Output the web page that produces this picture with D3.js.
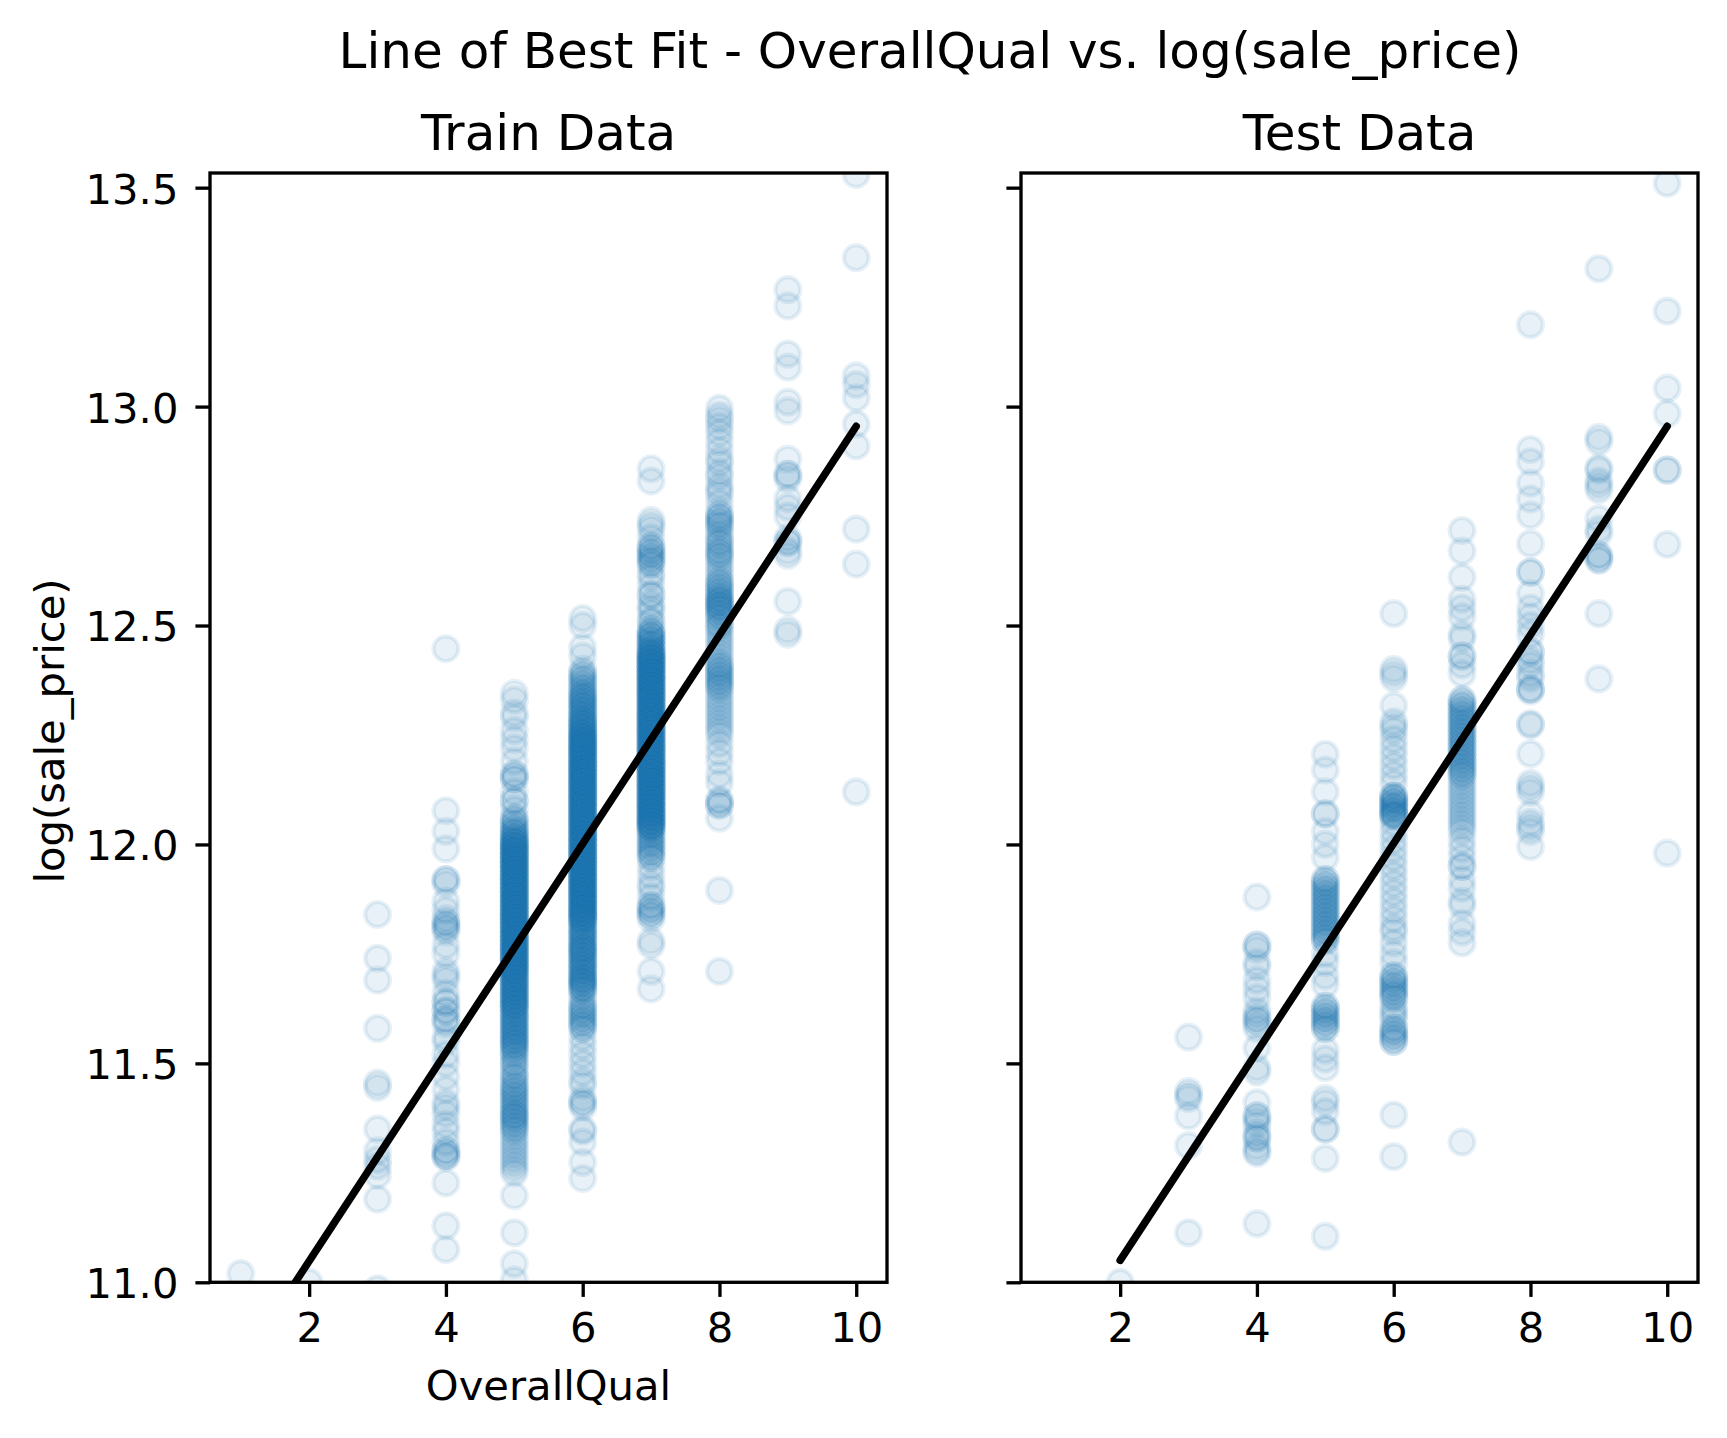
<!DOCTYPE html>
<html>
<head>
<meta charset="utf-8">
<script src="https://cdn.jsdelivr.net/npm/d3@7"></script>
<style>
  body { margin: 0; background: #fff; }
  svg { display: block; font-family: "DejaVu Sans", sans-serif; }
</style>
</head>
<body>
<svg id="chart" width="1727" height="1438"></svg>
<script>
// each column: [log(sale_price), how many points sit there]
const train1 = [[11.02, 1]];
const train2 = [[11.0, 1]];
const train3 = [[11.84, 1], [11.74, 1], [11.69, 1], [11.58, 1], [11.455, 1], [11.445, 1], [11.35, 1],
  [11.30, 1], [11.28, 1], [11.265, 1], [11.245, 1], [11.19, 1], [10.985, 1]];
const train4 = [[12.447, 1], [12.077, 1], [12.03, 1], [11.99, 1], [11.92, 2], [11.91, 1], [11.87, 1],
  [11.85, 1], [11.83, 1], [11.82, 2], [11.81, 2], [11.80, 1], [11.77, 1], [11.75, 1], [11.71, 1],
  [11.70, 1], [11.69, 1], [11.66, 1], [11.64, 2], [11.62, 2], [11.60, 2], [11.59, 1], [11.56, 1],
  [11.55, 1], [11.52, 1], [11.50, 1], [11.47, 1], [11.44, 1], [11.41, 1], [11.40, 1], [11.385, 1],
  [11.36, 1], [11.345, 1], [11.32, 1], [11.30, 2], [11.29, 2], [11.285, 1], [11.227, 1], [11.129, 1],
  [11.075, 1]];
const train5 = [[12.345, 1], [12.33, 1], [12.30, 1], [12.29, 1], [12.26, 1], [12.24, 1], [12.22, 1],
  [12.19, 1], [12.16, 2], [12.15, 2], [12.12, 1], [12.10, 2], [12.08, 1], [12.06, 2], [12.05, 2],
  [12.04, 2], [12.03, 3], [12.02, 3], [12.01, 4],
  [12.00, 5], [11.99, 5], [11.98, 5], [11.97, 5], [11.96, 5], [11.95, 5], [11.94, 5], [11.93, 5],
  [11.92, 5], [11.91, 5], [11.90, 5], [11.89, 5], [11.88, 5], [11.87, 5], [11.86, 5], [11.85, 5],
  [11.84, 5], [11.83, 5], [11.82, 5], [11.81, 5], [11.80, 5], [11.79, 5], [11.78, 5], [11.77, 5],
  [11.76, 5], [11.75, 5], [11.74, 5], [11.73, 5], [11.72, 5], [11.71, 5],
  [11.70, 4], [11.69, 4], [11.68, 4], [11.67, 4], [11.66, 4], [11.65, 4], [11.64, 4], [11.63, 4],
  [11.62, 3], [11.61, 3], [11.60, 3], [11.59, 3], [11.58, 3], [11.57, 3], [11.56, 3], [11.55, 3],
  [11.54, 3],
  [11.53, 2], [11.52, 2], [11.51, 1], [11.50, 2], [11.49, 1], [11.48, 1], [11.47, 2], [11.46, 1],
  [11.45, 2], [11.44, 2], [11.43, 2], [11.42, 2], [11.41, 2], [11.40, 2], [11.39, 2], [11.38, 3],
  [11.37, 2], [11.36, 2], [11.35, 2],
  [11.34, 1], [11.33, 1], [11.32, 1], [11.31, 1], [11.30, 1], [11.29, 1], [11.28, 1], [11.27, 1],
  [11.26, 1], [11.25, 1], [11.198, 1], [11.113, 1], [11.042, 1], [11.005, 1]];
const train6 = [[12.516, 1], [12.50, 1], [12.45, 1], [12.43, 1], [12.40, 1], [12.39, 2], [12.38, 2],
  [12.37, 2], [12.36, 2], [12.35, 2], [12.34, 3], [12.33, 3], [12.32, 3], [12.31, 3], [12.30, 3],
  [12.29, 3], [12.28, 4], [12.27, 4], [12.26, 4],
  [12.25, 5], [12.24, 5], [12.23, 5], [12.22, 5], [12.21, 5], [12.20, 5], [12.19, 5], [12.18, 5],
  [12.17, 5], [12.16, 5], [12.15, 5], [12.14, 5], [12.13, 5], [12.12, 5], [12.11, 5], [12.10, 5],
  [12.09, 5], [12.08, 5], [12.07, 5], [12.06, 5], [12.05, 5], [12.04, 5], [12.03, 5], [12.02, 5],
  [12.01, 5], [12.00, 5], [11.99, 5], [11.98, 5], [11.97, 5], [11.96, 5], [11.95, 5], [11.94, 5],
  [11.93, 5], [11.92, 5], [11.91, 5], [11.90, 5], [11.89, 5], [11.88, 5], [11.87, 5], [11.86, 5],
  [11.85, 5], [11.84, 5], [11.83, 5],
  [11.82, 3], [11.81, 3], [11.80, 3], [11.79, 3], [11.78, 3], [11.77, 3], [11.76, 4], [11.75, 3],
  [11.74, 3], [11.73, 3], [11.72, 3], [11.71, 3], [11.70, 3], [11.69, 4], [11.68, 3], [11.67, 3],
  [11.66, 1], [11.65, 1], [11.64, 1],
  [11.63, 2], [11.62, 2], [11.61, 2], [11.60, 2], [11.59, 2], [11.58, 2],
  [11.56, 1], [11.54, 1], [11.52, 1], [11.50, 1], [11.48, 1], [11.46, 1], [11.45, 1],
  [11.42, 1], [11.41, 2], [11.40, 1], [11.35, 1], [11.345, 1], [11.32, 1], [11.274, 1], [11.237, 1]];
const train7 = [[12.858, 1], [12.83, 1], [12.74, 1], [12.73, 1], [12.72, 1], [12.70, 1], [12.68, 2],
  [12.67, 2], [12.66, 2], [12.65, 2], [12.64, 2], [12.62, 1], [12.61, 1], [12.59, 1], [12.57, 2],
  [12.55, 1], [12.54, 1], [12.53, 1], [12.51, 2], [12.49, 2], [12.48, 3], [12.47, 3], [12.46, 3],
  [12.45, 3], [12.44, 4],
  [12.43, 5], [12.42, 5], [12.41, 5], [12.40, 5], [12.39, 5], [12.38, 5], [12.37, 5], [12.36, 5],
  [12.35, 5], [12.34, 5], [12.33, 5], [12.32, 5], [12.31, 5], [12.30, 5], [12.29, 5], [12.28, 5],
  [12.27, 5], [12.26, 5], [12.25, 5], [12.24, 5], [12.23, 5], [12.22, 5], [12.21, 5], [12.20, 5],
  [12.19, 5], [12.18, 5], [12.17, 5], [12.16, 5], [12.15, 5], [12.14, 5], [12.13, 5], [12.12, 5],
  [12.11, 5], [12.10, 5], [12.09, 5], [12.08, 5], [12.07, 5], [12.06, 5], [12.05, 5], [12.04, 5],
  [12.03, 2], [12.02, 2], [12.01, 2], [12.00, 2], [11.99, 2], [11.98, 2], [11.97, 2],
  [11.95, 1], [11.93, 1], [11.91, 1], [11.90, 1], [11.88, 1], [11.86, 2], [11.85, 2], [11.84, 2],
  [11.83, 1], [11.78, 1], [11.77, 1], [11.71, 1], [11.67, 1]];
const train8 = [[12.996, 1], [12.98, 1], [12.97, 1], [12.955, 1], [12.94, 1], [12.92, 1], [12.90, 1],
  [12.88, 1], [12.87, 1], [12.85, 1], [12.84, 1], [12.82, 1], [12.81, 1], [12.80, 1], [12.78, 1],
  [12.76, 1], [12.75, 2], [12.74, 2], [12.73, 2], [12.72, 1], [12.71, 1], [12.70, 1], [12.69, 2],
  [12.68, 1], [12.67, 2], [12.66, 2], [12.65, 1], [12.64, 1], [12.63, 1], [12.62, 1], [12.61, 1],
  [12.60, 2], [12.59, 2], [12.58, 2], [12.57, 2], [12.56, 3], [12.55, 3], [12.54, 3], [12.53, 2],
  [12.52, 2], [12.51, 1], [12.50, 2], [12.49, 1], [12.48, 1], [12.47, 1], [12.46, 1], [12.45, 1],
  [12.44, 1], [12.43, 1], [12.42, 1], [12.41, 2], [12.40, 2], [12.39, 2], [12.38, 2], [12.37, 2],
  [12.36, 2], [12.35, 1], [12.34, 1], [12.33, 1], [12.32, 1], [12.31, 1], [12.30, 1], [12.29, 1],
  [12.28, 1], [12.27, 1], [12.26, 1], [12.25, 1], [12.23, 1], [12.21, 1], [12.19, 1], [12.16, 1],
  [12.14, 1], [12.10, 2], [12.09, 2], [12.06, 1], [11.895, 1], [11.71, 1]];
const train9 = [[13.267, 1], [13.23, 1], [13.12, 1], [13.09, 1], [13.01, 1], [12.99, 1], [12.88, 1],
  [12.845, 2], [12.835, 1], [12.79, 1], [12.77, 1], [12.75, 1], [12.70, 1], [12.69, 2], [12.67, 1],
  [12.66, 1], [12.555, 1], [12.49, 1], [12.48, 1]];
const train10 = [[13.53, 1], [13.34, 1], [13.07, 1], [13.05, 1], [13.02, 1], [12.96, 1], [12.91, 1],
  [12.72, 1], [12.64, 1], [12.12, 1]];

const test2 = [[11.0, 1]];
const test3 = [[11.56, 1], [11.436, 1], [11.427, 1], [11.42, 1], [11.38, 1], [11.312, 1], [11.113, 1]];
const test4 = [[11.88, 1], [11.77, 2], [11.76, 1], [11.73, 1], [11.72, 1], [11.69, 1], [11.67, 1],
  [11.65, 1], [11.62, 1], [11.61, 1], [11.60, 2], [11.59, 1], [11.58, 1], [11.535, 1], [11.49, 1],
  [11.48, 1], [11.41, 1], [11.38, 2], [11.37, 1], [11.36, 1], [11.34, 1], [11.33, 2], [11.31, 1],
  [11.30, 1], [11.295, 1], [11.134, 1]];
const test5 = [[12.206, 1], [12.17, 1], [12.12, 1], [12.07, 2], [12.03, 1], [12.00, 1], [11.97, 1],
  [11.92, 2], [11.91, 2], [11.90, 2], [11.89, 2], [11.88, 2], [11.87, 2], [11.86, 2], [11.85, 2],
  [11.84, 2], [11.83, 2], [11.82, 2], [11.81, 2], [11.80, 2], [11.79, 2], [11.78, 2],
  [11.75, 1], [11.73, 1], [11.70, 1], [11.68, 1],
  [11.63, 2], [11.62, 2], [11.61, 2], [11.60, 2], [11.59, 2], [11.58, 2],
  [11.53, 1], [11.51, 1], [11.49, 1], [11.42, 1], [11.41, 1], [11.39, 1], [11.35, 2], [11.283, 1],
  [11.105, 1]];
const test6 = [[12.527, 1], [12.40, 1], [12.39, 1], [12.38, 1], [12.317, 1], [12.28, 1], [12.27, 1],
  [12.26, 1], [12.24, 1], [12.22, 1], [12.20, 1], [12.18, 1], [12.16, 1], [12.14, 1],
  [12.11, 3], [12.10, 3], [12.09, 3], [12.08, 3], [12.07, 3], [12.065, 2],
  [12.05, 1], [12.03, 1], [12.01, 1], [11.99, 1], [11.97, 1], [11.95, 1], [11.93, 1], [11.91, 1],
  [11.89, 1], [11.87, 1], [11.85, 1], [11.83, 1], [11.81, 1], [11.80, 1], [11.775, 1], [11.75, 1],
  [11.73, 1], [11.70, 2], [11.69, 2], [11.68, 2], [11.67, 2], [11.66, 2], [11.65, 2],
  [11.63, 1], [11.62, 1], [11.61, 1], [11.60, 1], [11.58, 2], [11.57, 2], [11.56, 2], [11.55, 2],
  [11.382, 1], [11.287, 1]];
const test7 = [[12.717, 1], [12.67, 1], [12.61, 1], [12.56, 1], [12.54, 1], [12.52, 1], [12.48, 1],
  [12.47, 1], [12.43, 2], [12.41, 1], [12.39, 1],
  [12.33, 2], [12.32, 2], [12.31, 2], [12.30, 2], [12.29, 2], [12.28, 2], [12.27, 2], [12.26, 2],
  [12.25, 2], [12.24, 2], [12.23, 2], [12.22, 2], [12.21, 2], [12.20, 2], [12.19, 2], [12.18, 2],
  [12.17, 2], [12.16, 2],
  [12.15, 1], [12.14, 1], [12.13, 1], [12.12, 1], [12.11, 1], [12.10, 1], [12.09, 1], [12.08, 1],
  [12.07, 1], [12.06, 1], [12.05, 1], [12.04, 1], [12.03, 1],
  [12.01, 1], [11.99, 1], [11.97, 1], [11.95, 2], [11.92, 1], [11.90, 1], [11.87, 1], [11.86, 1],
  [11.82, 1], [11.80, 1], [11.775, 1], [11.32, 1]];
const test8 = [[13.187, 1], [12.902, 1], [12.874, 1], [12.825, 1], [12.789, 1], [12.752, 1],
  [12.687, 1], [12.622, 2], [12.573, 1], [12.54, 1], [12.52, 1], [12.50, 1], [12.48, 1], [12.44, 2],
  [12.42, 1], [12.41, 1], [12.39, 1], [12.38, 1], [12.355, 2], [12.35, 1], [12.276, 1], [12.272, 1],
  [12.207, 1], [12.14, 1], [12.13, 1], [12.12, 1], [12.07, 1], [12.05, 1], [12.04, 1], [12.03, 1],
  [11.995, 1]];
const test9 = [[13.315, 1], [12.93, 1], [12.92, 1], [12.86, 1], [12.855, 1], [12.83, 1], [12.82, 1],
  [12.81, 1], [12.744, 1], [12.72, 1], [12.71, 1], [12.66, 2], [12.65, 2], [12.527, 1], [12.378, 1]];
const test10 = [[13.51, 1], [13.218, 1], [13.042, 1], [12.984, 1], [12.855, 2], [12.685, 1], [11.98, 1]];

// fitted line, drawn from the lowest to the highest OverallQual of each set
const trainFitX = [1, 10];
const trainFitY = [10.81, 12.955];
const testFitX = [2, 10];
const testFitY = [11.05, 12.955];

const xTicks = [2, 4, 6, 8, 10];
const yTicks = [11.0, 11.5, 12.0, 12.5, 13.0, 13.5];

const trainCols = [train1, train2, train3, train4, train5, train6, train7, train8, train9, train10];
const testCols = [[], test2, test3, test4, test5, test6, test7, test8, test9, test10];

function toPoints(cols) {
  const pts = [];
  cols.forEach((col, i) => {
    col.forEach(([v, n]) => {
      for (let k = 0; k < n; k++) pts.push({ q: i + 1, v: v });
    });
  });
  return pts;
}

const svg = d3.select("#chart");
const axTop = 173, axBottom = 1282.3;
const y = d3.scaleLinear().domain([11.0, 13.5335]).range([axBottom, axTop]);
const blue = "#1f77b4";
const tickLen = 14.6;
const tickFont = 41.7;

svg.append("text")
  .attr("x", 930)
  .attr("y", 68)
  .attr("text-anchor", "middle")
  .attr("font-size", 50)
  .text("Line of Best Fit - OverallQual vs. log(sale_price)");

function panel(id, left, right, cols, fitX, fitY, title, showY, xLabel) {
  const x = d3.scaleLinear().domain([0.55, 10.45]).range([left, right]);
  const g = svg.append("g");

  g.append("clipPath")
    .attr("id", id)
    .append("rect")
    .attr("x", left)
    .attr("y", axTop)
    .attr("width", right - left)
    .attr("height", axBottom - axTop);

  const plot = g.append("g").attr("clip-path", `url(#${id})`);
  plot.selectAll("circle")
    .data(toPoints(cols))
    .enter()
    .append("circle")
    .attr("cx", (d) => x(d.q))
    .attr("cy", (d) => y(d.v))
    .attr("r", 12.5)
    .attr("fill", blue)
    .attr("fill-opacity", 0.1)
    .attr("stroke", blue)
    .attr("stroke-opacity", 0.1)
    .attr("stroke-width", 4.2);

  const line = d3.line()
    .x((d, i) => x(fitX[i]))
    .y((d) => y(d));
  plot.append("path")
    .attr("d", line(fitY))
    .attr("fill", "none")
    .attr("stroke", "#000")
    .attr("stroke-width", 7.5)
    .attr("stroke-linecap", "round");

  const xAxis = g.append("g")
    .attr("transform", `translate(0,${axBottom})`)
    .call(d3.axisBottom(x).tickValues(xTicks).tickSize(tickLen).tickPadding(15.8).tickFormat(d3.format("d")));
  const yAxis = g.append("g")
    .attr("transform", `translate(${left},0)`)
    .call(d3.axisLeft(y).tickValues(yTicks).tickSize(tickLen).tickPadding(17).tickFormat(showY ? d3.format(".1f") : () => ""));
  [xAxis, yAxis].forEach((a) => {
    a.select(".domain").remove();
    a.selectAll(".tick line").attr("stroke", "#000").attr("stroke-width", 3.33);
    a.selectAll(".tick text")
      .attr("fill", "#000")
      .attr("font-size", tickFont)
      .attr("font-family", "DejaVu Sans");
  });
  yAxis.selectAll(".tick text").attr("dy", "0.37em");

  g.append("rect")
    .attr("x", left)
    .attr("y", axTop)
    .attr("width", right - left)
    .attr("height", axBottom - axTop)
    .attr("fill", "none")
    .attr("stroke", "#000")
    .attr("stroke-width", 3.33);

  g.append("text")
    .attr("x", (left + right) / 2)
    .attr("y", 150)
    .attr("text-anchor", "middle")
    .attr("font-size", 50)
    .text(title);

  if (xLabel) {
    g.append("text")
      .attr("x", (left + right) / 2)
      .attr("y", 1400)
      .attr("text-anchor", "middle")
      .attr("font-size", tickFont)
      .text(xLabel);
  }
  if (showY) {
    g.append("text")
      .attr("transform", "rotate(-90)")
      .attr("x", -731)
      .attr("y", 64)
      .attr("text-anchor", "middle")
      .attr("font-size", tickFont)
      .text("log(sale_price)");
  }
}

panel("clipTrain", 210, 887, trainCols, trainFitX, trainFitY, "Train Data", true, "OverallQual");
panel("clipTest", 1021, 1698, testCols, testFitX, testFitY, "Test Data", false, null);
</script>
</body>
</html>
